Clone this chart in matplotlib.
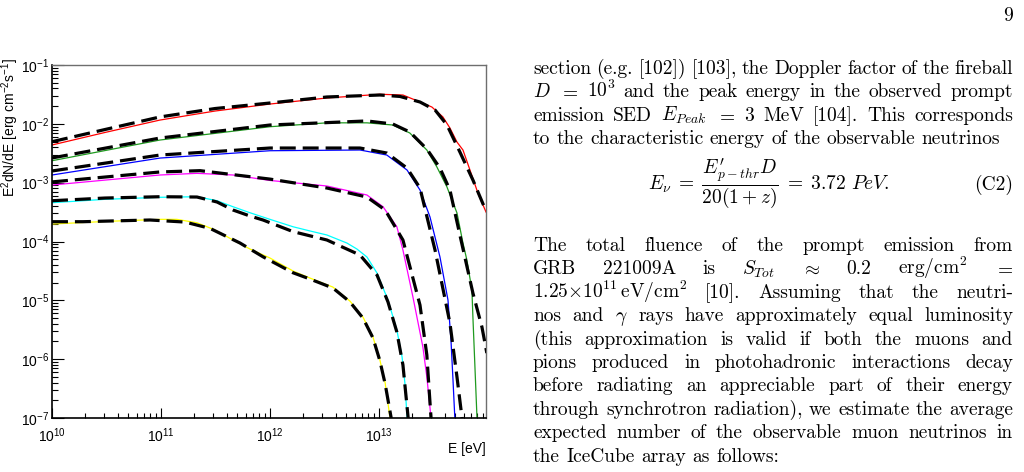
import matplotlib
matplotlib.use("Agg")
import matplotlib.pyplot as plt
from matplotlib.ticker import LogLocator, NullFormatter, FixedLocator, FixedFormatter

# ---------------- data ----------------
red_E = [1e10, 3.06e10, 9.8e10, 3.13e11, 1e12, 3.33e12, 1.02e13, 1.66e13, 2.23e13,
         3.06e13, 3.86e13, 4.48e13, 5.2e13, 5.9e13, 6.84e13, 8.09e13, 9.6e13]
red_F = [4.37e-3, 7.13e-3, 1.16e-2, 1.65e-2, 2.17e-2, 2.75e-2, 3.18e-2, 3.09e-2, 2.47e-2,
         1.93e-2, 1.31e-2, 8.5e-3, 4.9e-3, 3.59e-3, 1.64e-3, 6.67e-4, 3.17e-4]
red_fit_E = [1e10, 3.06e10, 9.8e10, 3.13e11, 1e12, 3.33e12, 1.02e13, 1.56e13, 2.38e13,
             3.27e13, 4.21e13, 5.53e13, 7.28e13, 9.6e13]
red_fit_F = [4.97e-3, 8.0e-3, 1.31e-2, 1.82e-2, 2.26e-2, 2.86e-2, 3.09e-2, 2.92e-2, 2.35e-2,
             1.72e-2, 9.55e-3, 3.32e-3, 1.11e-3, 3.3e-4]

green_E = [1e10, 9.8e10, 1e12, 3.33e12, 7.76e12, 1.34e13, 1.92e13, 2.75e13, 3.4e13,
           4.21e13, 5.2e13, 5.9e13, 6.41e13, 7.13e13, 7.28e13, 7.6e13, 7.93e13, 8.09e13]
green_F = [2.36e-3, 5.31e-3, 8.93e-3, 1.04e-2, 1.04e-2, 9.55e-3, 6.98e-3, 3.59e-3, 1.85e-3,
           8.43e-4, 3.05e-4, 9.4e-5, 4.84e-5, 1.5e-5, 5.2e-6, 7.35e-7, 1.04e-7, 6.3e-8]
green_fit_E = [1e10, 9.8e10, 1e12, 7.76e12, 1.34e13, 1.92e13, 2.75e13, 3.63e13, 4.48e13,
               5.53e13, 7.28e13, 8.81e13, 9.77e13]
green_fit_F = [2.63e-3, 5.74e-3, 9.55e-3, 1.12e-2, 9.93e-3, 7.26e-3, 3.73e-3, 1.77e-3, 7.5e-4,
               1.29e-4, 1.33e-5, 3.52e-6, 1.27e-6]

blue_E = [1e10, 9.8e10, 1e12, 6.7e12, 1.18e13, 1.81e13, 2.38e13, 2.94e13, 3.63e13,
          4.3e13, 4.58e13, 4.78e13, 4.98e13]
blue_F = [1.35e-3, 2.62e-3, 3.49e-3, 3.59e-3, 2.95e-3, 1.64e-3, 7.5e-4, 2.61e-4, 5.45e-5,
          1.01e-5, 2.11e-6, 4.42e-7, 9.2e-8]
blue_fit_E = [1e10, 9.8e10, 1e12, 6.7e12, 1.18e13, 1.81e13, 2.38e13, 3.27e13, 4.48e13,
              5.2e13, 5.77e13, 5.9e13]
blue_fit_F = [1.58e-3, 2.95e-3, 3.88e-3, 3.88e-3, 3.19e-3, 1.77e-3, 8.11e-4, 7.16e-5, 4.12e-6,
              4.98e-7, 1.04e-7, 7.6e-8]

magenta_E = [1e10, 9.8e10, 2.14e11, 4.58e11, 1e12, 3.33e12, 7.76e12, 1.09e13, 1.46e13,
             1.66e13, 2.05e13, 2.53e13, 2.75e13, 3.0e13]
magenta_F = [9.12e-4, 1.35e-3, 1.44e-3, 1.35e-3, 1.09e-3, 8.78e-4, 6.17e-4, 3.9e-4, 1.78e-4,
             7.16e-5, 1.14e-5, 1.61e-6, 4.98e-7, 1.04e-7]
magenta_fit_E = [1e10, 9.8e10, 2.28e11, 1e12, 3.33e12, 7.76e12, 1.14e13, 1.66e13, 2.38e13,
                 2.75e13, 3.0e13, 3.07e13]
magenta_fit_F = [1.03e-3, 1.52e-3, 1.6e-3, 1.15e-3, 8.11e-4, 5.7e-4, 3.43e-4, 1.06e-4, 8.3e-6,
                 1.18e-6, 1.04e-7, 6.8e-8]

cyan_E = [1e10, 3.06e10, 9.8e10, 2.14e11, 3.27e11, 4.58e11, 6.56e11, 1e12, 1.63e12,
          2.33e12, 3.33e12, 5.08e12, 6.28e12, 7.76e12, 9.6e12, 1.21e13, 1.46e13, 1.63e13,
          1.73e13, 1.81e13]
cyan_F = [4.56e-4, 5.21e-4, 5.64e-4, 5.77e-4, 4.93e-4, 3.9e-4, 3.08e-4, 2.38e-4, 1.78e-4,
          1.51e-4, 1.29e-4, 9.42e-5, 7.45e-5, 5.45e-5, 2.91e-5, 1.01e-5, 3.13e-6, 1.09e-6,
          3.94e-7, 1.04e-7]
cyan_fit_E = [1e10, 3.06e10, 9.8e10, 2.14e11, 3.27e11, 4.58e11, 6.56e11, 8.63e11, 1.63e12,
              3.33e12, 6.7e12, 9.6e12, 1.21e13, 1.46e13, 1.66e13, 1.85e13, 1.88e13]
cyan_fit_F = [4.93e-4, 5.48e-4, 5.77e-4, 5.7e-4, 4.69e-4, 3.43e-4, 2.71e-4, 2.32e-4, 1.47e-4,
              1.06e-4, 5.89e-5, 2.69e-5, 9.4e-6, 2.89e-6, 7.96e-7, 1.04e-7, 6.8e-8]

yellow_E = [1e10, 3.06e10, 9.8e10, 1.4e11, 2.14e11, 3.13e11, 4.58e11, 6.56e11, 1e12,
            1.63e12, 2.33e12, 3.78e12, 5.42e12, 7.13e12, 8.81e12, 1.02e13, 1.14e13, 1.26e13]
yellow_F = [1.98e-4, 2.19e-4, 2.38e-4, 2.38e-4, 2.08e-4, 1.57e-4, 1.06e-4, 7.45e-5, 5.24e-5,
            3.15e-5, 2.39e-5, 1.68e-5, 9.7e-6, 5.2e-6, 2.38e-6, 9.68e-7, 3.94e-7, 1.04e-7]
yellow_fit_E = [1e10, 1.92e10, 7.93e10, 1.66e11, 2.82e11, 5.31e11, 8.63e11, 1.63e12, 2.33e12,
                3.78e12, 5.42e12, 7.13e12, 8.81e12, 1.02e13, 1.14e13, 1.29e13, 1.32e13]
yellow_fit_F = [2.17e-4, 2.17e-4, 2.32e-4, 2.14e-4, 1.67e-4, 9.42e-5, 5.5e-5, 2.94e-5, 2.3e-5,
                1.62e-5, 9.4e-6, 5.0e-6, 2.3e-6, 9.4e-7, 3.8e-7, 1.04e-7, 6.8e-8]

series = [
    ("red", red_E, red_F, red_fit_E, red_fit_F),
    ("#1f9a1f", green_E, green_F, green_fit_E, green_fit_F),
    ("blue", blue_E, blue_F, blue_fit_E, blue_fit_F),
    ("magenta", magenta_E, magenta_F, magenta_fit_E, magenta_fit_F),
    ("cyan", cyan_E, cyan_F, cyan_fit_E, cyan_fit_F),
    ("yellow", yellow_E, yellow_F, yellow_fit_E, yellow_fit_F),
]

x_ticks = [1e10, 1e11, 1e12, 1e13]
x_tick_labels = [r"$10^{10}$", r"$10^{11}$", r"$10^{12}$", r"$10^{13}$"]
y_ticks = [1e-7, 1e-6, 1e-5, 1e-4, 1e-3, 1e-2, 1e-1]
y_tick_labels = [r"$10^{-7}$", r"$10^{-6}$", r"$10^{-5}$", r"$10^{-4}$",
                 r"$10^{-3}$", r"$10^{-2}$", r"$10^{-1}$"]

# ---------------- style ----------------
plt.rcParams["font.family"] = ["Liberation Sans", "DejaVu Sans"]
plt.rcParams["mathtext.fontset"] = "custom"
plt.rcParams["mathtext.rm"] = "Liberation Sans"
plt.rcParams["mathtext.it"] = "Liberation Sans:italic"
plt.rcParams["mathtext.bf"] = "Liberation Sans:bold"
plt.rcParams["mathtext.sf"] = "Liberation Sans"
plt.rcParams["lines.scale_dashes"] = False

FW, FH = 1024, 472
fig = plt.figure(figsize=(FW / 100, FH / 100), dpi=100)
ax = fig.add_axes([52 / FW, 1 - 418 / FH, (486 - 52) / FW, (418 - 65) / FH])

for col, E, F, Ef, Ff in series:
    ax.plot(E, F, color=col, lw=0.9, zorder=2)
    ax.plot(Ef, Ff, color="black", lw=2.3, dashes=(11.5, 5.0),
            dash_capstyle="butt", zorder=3)

ax.set_xscale("log")
ax.set_yscale("log")
ax.set_xlim(1e10, 9.6e13)
ax.set_ylim(1e-7, 1e-1)

ax.xaxis.set_major_locator(FixedLocator(x_ticks))
ax.xaxis.set_major_formatter(FixedFormatter(x_tick_labels))
ax.yaxis.set_major_locator(FixedLocator(y_ticks))
ax.yaxis.set_major_formatter(FixedFormatter(y_tick_labels))
ax.xaxis.set_minor_locator(LogLocator(base=10, subs=range(2, 10), numticks=20))
ax.yaxis.set_minor_locator(LogLocator(base=10, subs=range(2, 10), numticks=20))
ax.xaxis.set_minor_formatter(NullFormatter())
ax.yaxis.set_minor_formatter(NullFormatter())

ax.tick_params(axis="y", which="major", direction="in", length=8.5, width=0.8,
               left=True, right=False, pad=2, labelsize=10)
ax.tick_params(axis="y", which="minor", direction="in", length=4.5, width=0.8,
               left=True, right=False)
ax.tick_params(axis="x", which="major", direction="in", length=7, width=0.8,
               bottom=True, top=False, pad=6, labelsize=10)
ax.tick_params(axis="x", which="minor", direction="in", length=3.5, width=0.8,
               bottom=True, top=False)

for s in ("left", "bottom"):
    ax.spines[s].set_linewidth(1.2)
    ax.spines[s].set_color("black")
for s in ("top", "right"):
    ax.spines[s].set_linewidth(1.0)
    ax.spines[s].set_color("#6e6e6e")

fig.text(10.5 / FW, 1 - 58 / FH, r"E$^{2}$dN/dE [erg cm$^{-2}$s$^{-1}$]", rotation=90,
         ha="center", va="top", fontsize=10)
fig.text(486 / FW, 1 - 449 / FH, "E [eV]", ha="right", va="center", fontsize=10)

# ---------------- right column text ----------------
FS = 14
X0, X1 = 533, 1013
renderer = fig.canvas.get_renderer()


def put_line(tokens, base_px, justify=True):
    objs = [fig.text(0, 1 - base_px / FH, t, fontsize=FS, family="cmr10",
                     va="baseline", ha="left", math_fontfamily="cm") for t in tokens]
    ws = [o.get_window_extent(renderer).width for o in objs]
    if justify and len(objs) > 1:
        gap = (X1 - X0 - sum(ws)) / (len(objs) - 1)
    else:
        gap = FS * 100 / 72 * 0.333
    x = X0
    for o, w in zip(objs, ws):
        o.set_x(x / FW)
        x += w + gap


fig.text(X1 / FW, 1 - 21 / FH, "9", fontsize=FS, family="cmr10", ha="right",
         va="baseline")

para1 = [
    ("section (e.g. [102]) [103], the Doppler factor of the fireball", True),
    ("$D$ $=$ $10^3$ and the peak energy in the observed prompt", True),
    ("emission SED $E_{Peak}$ $=$ 3 MeV [104]. This corresponds", True),
    ("to the characteristic energy of the observable neutrinos", False),
]
for i, (ln, j) in enumerate(para1):
    put_line(ln.split(" "), 74 + i * 23.4, j)

fig.text(769 / FW, 1 - 184 / FH,
         r"$E_\nu \;=\; \dfrac{E^{\prime}_{p-thr}D}{20(1+z)} \;=\; 3.72\ PeV.$",
         fontsize=FS, ha="center", va="center", math_fontfamily="cm")
fig.text(X1 / FW, 1 - 190 / FH, "(C2)", fontsize=FS, family="cmr10", ha="right",
         va="baseline")

para2 = [
    ("The total fluence of the prompt emission from", True),
    ("GRB 221009A is $S_{Tot}$ $\\approx$ 0.2 erg/cm$^2$ $=$", True),
    ("$1.25{\\times}10^{11}\\,$eV/cm$^2$ [10]. Assuming that the neutri-", True),
    ("nos and $\\gamma$ rays have approximately equal luminosity", True),
    ("(this approximation is valid if both the muons and", True),
    ("pions produced in photohadronic interactions decay", True),
    ("before radiating an appreciable part of their energy", True),
    ("through synchrotron radiation), we estimate the average", True),
    ("expected number of the observable muon neutrinos in", True),
    ("the IceCube array as follows:", False),
]
for i, (ln, j) in enumerate(para2):
    put_line(ln.split(" "), 251 + i * 23.4, j)

fig.savefig("out.png", dpi=100)
